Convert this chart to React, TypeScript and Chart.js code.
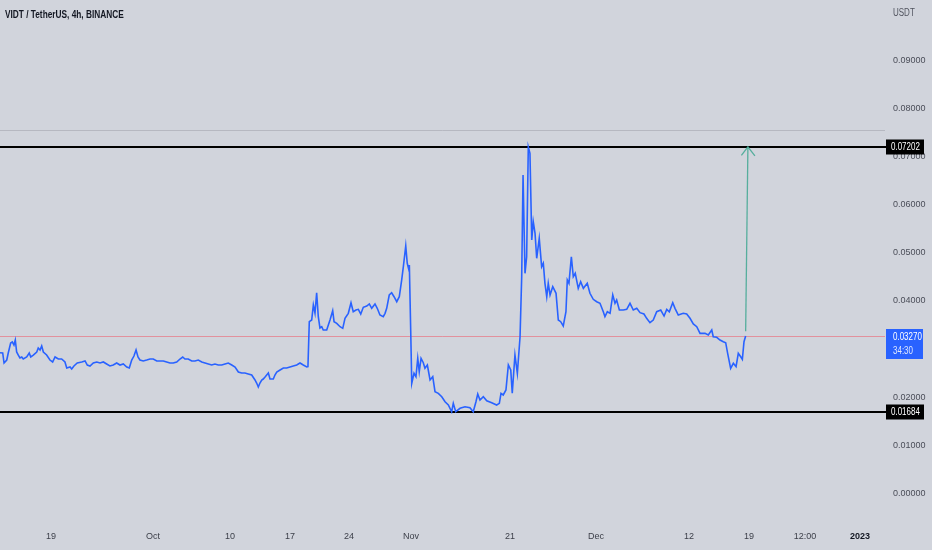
import React, { useEffect, useRef } from 'react';
import { Chart, registerables } from 'chart.js';

Chart.register(...registerables);

// ---- data (4h bars, position along the time axis) ----
const barIndex = [
  0, 1.8, 2.7, 4.5, 5.5, 7.1, 8.2, 9.3, 10.2, 11.1, 12.2, 13.3, 14.5, 15.5, 17.8, 19.5, 20.5, 22.2, 24.5, 25.5,
  26.7, 27.8, 28.9, 31.1, 33.3, 35.1, 36.7, 38.9, 41.1, 43.3, 44.5, 46.7, 47.8, 49.3, 51.5, 54.5, 56.7, 58.2, 60, 62.2,
  64.5, 66.7, 68.9, 71.1, 73.3, 75.5, 77.8, 80, 82.2, 84.5, 86.2, 87.8, 89.3, 90.7, 92, 93.3, 95.5, 97.8, 100, 102.2,
  104.5, 106.7, 108.9, 111.1, 113.3, 115.5, 117.8, 120, 121.8, 123.3, 125.5, 127.8, 130, 132.2, 134.5, 136.7, 138.9, 141.1, 143.3, 145.5,
  147.8, 150, 152.2, 154.5, 156.7, 158.9, 161.1, 163.3, 165.5, 167.8, 170, 171.1, 172.2, 173.3, 174.5, 175.5, 176.7, 177.8, 178.9, 180,
  181.1, 182.2, 183.3, 184.5, 186.7, 188.9, 191.1, 193.3, 195.5, 197.8, 200, 202.2, 204.5,
  205.3, 206.2, 207.8, 208.9, 210, 211.1, 212.2, 213.3, 214.5, 215.5, 217.8, 220, 221.8, 222.7, 224.5, 226.7, 228.5, 230, 232.2, 234,
  235.5, 237.3, 238.9, 240.5, 242.2, 244.5, 246.2, 247.8, 250, 251.5, 253.3, 255.5, 256.7, 257.8, 259.5, 261.1, 262.7, 264.5, 266.2, 267.8,
  268.9, 270.5, 271.5, 272.5, 272.9, 273.8, 274.5, 276, 277.3, 278.5, 279.5, 280.7, 282.2, 283.3, 284.9, 286.7, 288.5, 290, 292.2, 294.5,
  296.7, 298.9, 301.1, 302.2, 303.8, 306.7, 310, 313.3, 315.5, 317.3, 318.5, 320, 322.2, 324.5, 327.8, 331.1, 332.9, 334, 335.5, 337.3,
  338.9, 340.5, 341.5, 343.3, 344.9, 346.7, 347.8, 348.7, 350, 351.1, 352.2, 353.3, 354.5, 355.5, 356.7, 357.8, 359.5, 361.1, 362.2, 363.3,
  364.5, 365.5, 366.7, 368.5, 370.7, 372.2, 373.8, 375.5, 377.3, 378.2, 379.3, 380.9, 382.2, 383.5, 385.5, 387.1, 388.9, 391.5, 393.3, 395.5,
  397.8, 400, 402.2, 403.3, 404.9, 406.7, 408.5, 410, 411.1, 412.9, 415.5, 417.8, 420, 422.2, 424.5, 426.7, 429.3, 431.1, 433.3, 435.5,
  437.8, 440.5, 442.7, 444.5, 446.2, 448.5, 450, 452.2, 455.5, 457.8, 460, 462.2, 464.5, 466.7, 470, 472.2, 474.5, 475.5, 477.8, 480,
  482.2, 483.8, 485.1, 487.1, 488.9, 490.7, 492.2, 493.8, 494.9, 496, 497.1,
];

const closePrice = [
  0.02923, 0.02917, 0.02709, 0.02771, 0.02917, 0.03125, 0.03146, 0.03083, 0.03187, 0.02938, 0.02875, 0.02813, 0.02834, 0.02792, 0.02834, 0.02917, 0.02834, 0.02875, 0.02938, 0.03021,
  0.02979, 0.03062, 0.02938, 0.02875, 0.02771, 0.0273, 0.02834, 0.02792, 0.02792, 0.0273, 0.02605, 0.02626, 0.02584, 0.02647, 0.02709, 0.0273, 0.02751, 0.02667, 0.02647, 0.02709,
  0.0273, 0.02709, 0.0273, 0.02688, 0.02647, 0.02667, 0.02709, 0.02667, 0.02688, 0.02626, 0.02605, 0.02771, 0.02854, 0.02979, 0.02834, 0.02771, 0.02751, 0.02771, 0.02792, 0.02792,
  0.02751, 0.02751, 0.02751, 0.0273, 0.02709, 0.02709, 0.0273, 0.02792, 0.02834, 0.02792, 0.02792, 0.02751, 0.02751, 0.02771, 0.0273, 0.02709, 0.02688, 0.02667, 0.02688, 0.02667,
  0.02667, 0.02688, 0.02709, 0.02667, 0.02626, 0.02522, 0.02501, 0.02501, 0.0248, 0.02459, 0.02356, 0.02293, 0.0221, 0.02293, 0.02356, 0.02376, 0.02418, 0.02459, 0.02501, 0.02376,
  0.02376, 0.02376, 0.02459, 0.02522, 0.02563, 0.02605, 0.02605, 0.02626, 0.02647, 0.02667, 0.02709, 0.02667, 0.02626,
  0.02632, 0.03568, 0.03603, 0.03915, 0.03748, 0.0417, 0.03672, 0.03437, 0.03464, 0.03395, 0.03395, 0.03603, 0.03796, 0.03568, 0.03534, 0.03464, 0.0343, 0.03638, 0.03742, 0.03963,
  0.03775, 0.03811, 0.03825, 0.03728, 0.03867, 0.03894, 0.03936, 0.03846, 0.03936, 0.03846, 0.03707, 0.03672, 0.03742, 0.03846, 0.04123, 0.0417, 0.04087, 0.03983, 0.04087, 0.04435,
  0.04711, 0.05141, 0.04782, 0.04657, 0.04746, 0.03395, 0.02287, 0.02495, 0.02424, 0.02807, 0.02528, 0.02807, 0.02715, 0.02599, 0.02667, 0.02356, 0.02424, 0.02112, 0.02079, 0.02008,
  0.01904, 0.01836, 0.01696, 0.01871, 0.01696, 0.01767, 0.018, 0.0178, 0.01696, 0.01904, 0.02064, 0.0194, 0.02008, 0.01925, 0.01884, 0.01836, 0.01871, 0.02079, 0.02044, 0.02148,
  0.02667, 0.02563, 0.02079, 0.02875, 0.02495, 0.03256, 0.04503, 0.06617, 0.04574, 0.04919, 0.07202, 0.07069, 0.05266, 0.05647, 0.05405, 0.04886, 0.05301, 0.04711, 0.04782, 0.04366,
  0.04087, 0.04366, 0.04123, 0.04295, 0.04158, 0.03603, 0.03568, 0.03478, 0.03775, 0.04435, 0.04366, 0.04919, 0.04503, 0.04574, 0.04262, 0.04399, 0.04262, 0.04366, 0.04158, 0.04033,
  0.03983, 0.0395, 0.03775, 0.03672, 0.03775, 0.03742, 0.04123, 0.0395, 0.04019, 0.03811, 0.03811, 0.03825, 0.0395, 0.03811, 0.03846, 0.03755, 0.03728, 0.03638, 0.03547, 0.03603,
  0.03775, 0.03811, 0.03686, 0.03825, 0.03775, 0.03963, 0.03846, 0.03707, 0.03742, 0.03728, 0.03638, 0.0352, 0.03464, 0.03326, 0.03326, 0.03291, 0.03395, 0.03256, 0.03243, 0.03187,
  0.03152, 0.03131, 0.02911, 0.02599, 0.02703, 0.02632, 0.02911, 0.0284, 0.02786, 0.03152, 0.0327,
];

const xTickBars = [34, 102, 153.3, 193.3, 232.7, 274, 340, 397.3, 459.3, 499.3, 536.7, 573.3];
const xTickLabels = ['19', 'Oct', '10', '17', '24', 'Nov', '21', 'Dec', '12', '19', '12:00', '2023'];
const yTickValues = [0, 0.01, 0.02, 0.03, 0.04, 0.05, 0.06, 0.07, 0.08, 0.09];

const titleText = 'VIDT / TetherUS, 4h, BINANCE';
const currencyText = 'USDT';
const resistanceLevel = 0.07202;
const supportLevel = 0.01684;
const faintLevel = 0.0756;
const lastPrice = 0.0327;
const countdownText = '34:30';
const arrowStartBar = 497.1;
const arrowStartPrice = 0.0337;
const arrowEndBar = 498.6;
const arrowEndPrice = 0.07202;
const xRange = [0, 590];
const yRange = [-0.00555, 0.10256];

const SANS = "'Liberation Sans', Arial, sans-serif";
const BG = '#d1d4dc';

// draw horizontally condensed text (the reference uses a narrow face)
function narrowText(ctx: CanvasRenderingContext2D, text: string, x: number, y: number, squeeze: number) {
  ctx.save();
  ctx.translate(x, y);
  ctx.scale(squeeze, 1);
  ctx.fillText(text, 0, 0);
  ctx.restore();
}

const overlayPlugin = {
  id: 'tvOverlay',
  beforeDatasetsDraw(chart: any) {
    const { ctx, chartArea, scales } = chart;
    const y = scales.y;
    ctx.save();
    // faint level
    let py = Math.round(y.getPixelForValue(faintLevel)) + 0.5;
    ctx.strokeStyle = 'rgba(178,181,190,0.9)';
    ctx.lineWidth = 1;
    ctx.beginPath();
    ctx.moveTo(chartArea.left, py);
    ctx.lineTo(chartArea.right, py);
    ctx.stroke();
    // last price line
    py = Math.round(y.getPixelForValue(lastPrice)) + 0.5;
    ctx.strokeStyle = 'rgba(240,90,105,0.55)';
    ctx.beginPath();
    ctx.moveTo(chartArea.left, py);
    ctx.lineTo(chartArea.right, py);
    ctx.stroke();
    // support / resistance
    ctx.strokeStyle = '#000000';
    ctx.lineWidth = 2;
    [resistanceLevel, supportLevel].forEach((lv) => {
      const p = Math.round(y.getPixelForValue(lv));
      ctx.beginPath();
      ctx.moveTo(chartArea.left, p);
      ctx.lineTo(chartArea.right + 2, p);
      ctx.stroke();
    });
    ctx.restore();
  },
  afterDraw(chart: any) {
    const { ctx, chartArea, scales } = chart;
    const x = scales.x;
    const y = scales.y;
    ctx.save();
    // arrow
    const x0 = x.getPixelForValue(arrowStartBar);
    const y0 = y.getPixelForValue(arrowStartPrice);
    const x1 = x.getPixelForValue(arrowEndBar);
    const y1 = y.getPixelForValue(arrowEndPrice);
    ctx.strokeStyle = 'rgba(72,170,150,0.9)';
    ctx.lineWidth = 1.3;
    ctx.beginPath();
    ctx.moveTo(x0, y0);
    ctx.lineTo(x1, y1);
    ctx.stroke();
    ctx.beginPath();
    ctx.moveTo(x1 - 6.5, y1 + 8.5);
    ctx.lineTo(x1, y1);
    ctx.lineTo(x1 + 7, y1 + 9);
    ctx.stroke();

    const boxLeft = chartArea.right + 1;
    // level boxes
    ctx.font = `10px ${SANS}`;
    ctx.textBaseline = 'middle';
    ctx.textAlign = 'left';
    [resistanceLevel, supportLevel].forEach((lv) => {
      const p = Math.round(y.getPixelForValue(lv));
      ctx.fillStyle = '#000000';
      ctx.fillRect(boxLeft, p - 7.5, 38, 15);
      ctx.fillStyle = '#ffffff';
      narrowText(ctx, lv.toFixed(5), boxLeft + 5, p + 0.5, 0.8);
    });
    // last price box
    const lp = Math.round(y.getPixelForValue(lastPrice));
    ctx.fillStyle = '#2962ff';
    ctx.fillRect(boxLeft, lp - 7, 37, 30);
    ctx.fillStyle = '#ffffff';
    narrowText(ctx, lastPrice.toFixed(5), boxLeft + 7, lp + 1.5, 0.8);
    ctx.fillStyle = 'rgba(255,255,255,0.85)';
    narrowText(ctx, countdownText, boxLeft + 7, lp + 15, 0.8);

    // currency label
    ctx.fillStyle = '#50535e';
    ctx.font = `10px ${SANS}`;
    narrowText(ctx, currencyText, chartArea.right + 8, 13, 0.8);

    // title
    ctx.fillStyle = '#131722';
    ctx.font = `bold 10.5px ${SANS}`;
    narrowText(ctx, titleText, 5, 15.5, 0.79);
    ctx.restore();
  },
};

export default function App() {
  const canvasRef = useRef<HTMLCanvasElement | null>(null);

  useEffect(() => {
    const canvas = canvasRef.current;
    if (!canvas) return;
    const chart = new Chart(canvas, {
      type: 'line',
      data: {
        datasets: [
          {
            label: 'VIDTUSDT',
            data: barIndex.map((b, i) => ({ x: b, y: closePrice[i] })),
            borderColor: '#2962ff',
            borderWidth: 1.6,
            pointRadius: 0,
            tension: 0,
            fill: false,
          },
        ],
      },
      options: {
        animation: false,
        responsive: false,
        devicePixelRatio: 1,
        layout: { padding: 0 },
        plugins: {
          legend: { display: false },
          tooltip: { enabled: false },
          title: { display: false },
        },
        scales: {
          x: {
            type: 'linear',
            min: xRange[0],
            max: xRange[1],
            grid: { display: false, drawTicks: false },
            border: { display: false },
            afterBuildTicks: (s: any) => {
              s.ticks = xTickBars.map((v) => ({ value: v }));
            },
            afterFit: (s: any) => {
              s.height = 30;
              s.paddingLeft = 0;
              s.paddingRight = 0;
            },
            ticks: {
              autoSkip: false,
              maxRotation: 0,
              minRotation: 0,
              padding: 11,
              color: (c: any) => (c.index === xTickLabels.length - 1 ? '#131722' : '#3b3e48'),
              font: (c: any) =>
                c.index === xTickLabels.length - 1
                  ? { family: SANS, size: 9, weight: 'bold' }
                  : { family: SANS, size: 9 },
              callback: (_v: any, i: number) => xTickLabels[i],
            },
          },
          y: {
            type: 'linear',
            position: 'right',
            min: yRange[0],
            max: yRange[1],
            grid: { display: false, drawTicks: false },
            border: { display: false },
            afterBuildTicks: (s: any) => {
              s.ticks = yTickValues.map((v) => ({ value: v }));
            },
            afterFit: (s: any) => {
              s.width = 47;
              s.paddingTop = 0;
              s.paddingBottom = 0;
            },
            ticks: {
              padding: 8,
              crossAlign: 'near',
              color: '#4a4d58',
              font: { family: SANS, size: 9 },
              // the last-price tag hides the tick label it overlaps
              callback: (v: any) => (Math.abs(Number(v) - lastPrice) < 0.004 ? '' : Number(v).toFixed(5)),
            },
          },
        },
      },
      plugins: [overlayPlugin],
    } as any);
    return () => chart.destroy();
  }, []);

  return (
    <div style={{ position: 'fixed', left: 0, top: 0, width: 932, height: 550, background: BG }}>
      <canvas ref={canvasRef} width={932} height={550} style={{ display: 'block' }} />
    </div>
  );
}
